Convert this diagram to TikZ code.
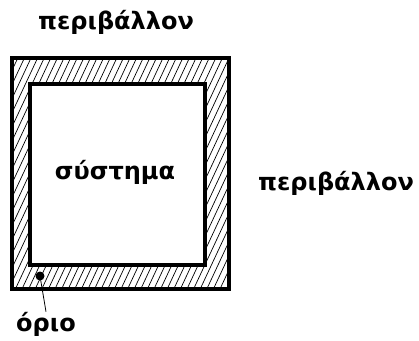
\documentclass[tikz,border=0pt]{standalone}
\usepackage{fontspec}
\setmainfont{DejaVu Sans}
\usetikzlibrary{positioning}
\tikzset{
  lbl/.style={font=\bfseries\fontsize{24}{27}\selectfont,inner sep=0pt},
  wall/.style={draw=black,line width=4pt},
  hatchline/.style={draw=black,line width=0.7pt},
  leader/.style={draw=black,line width=0.8pt}
}
\begin{document}
\begin{tikzpicture}[x=1pt,y=-1pt]
  \useasboundingbox (0,0) rectangle (419,340);
  % hatching between the two walls
  \begin{scope}
    \clip (12,58) rectangle (229,289);
    \foreach \x in {-110,-103.4,...,235}
      \draw[hatchline] (\x,289) -- ++(108,-231);
  \end{scope}
  \fill[white] (30,84) rectangle (205,265);
  \draw[wall] (12,58) rectangle (229,289);
  \draw[wall] (30,84) rectangle (205,265);
  % labels
  \node[lbl] (envtop) at (116,22) {περιβάλλον};
  \node[lbl] (sys) at (115,172) {σύστημα};
  \node[lbl] (envright) at (336,183) {περιβάλλον};
  \node[lbl] (bound) at (46,324) {όριο};
  \fill (40,276) circle (4.5) coordinate (bdot);
  \draw[leader] (bdot) -- (bound.north);
\end{tikzpicture}
\end{document}
